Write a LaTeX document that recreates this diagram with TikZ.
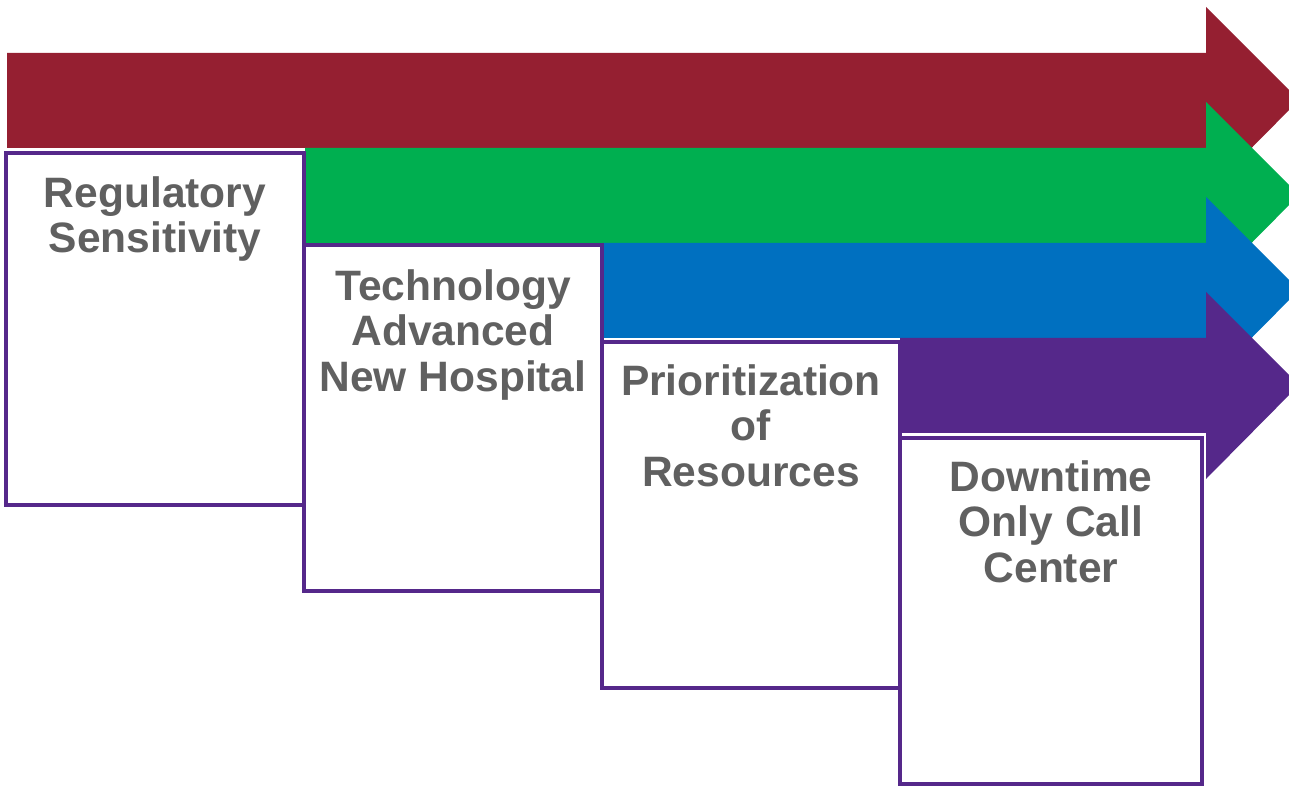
\documentclass[tikz,border=0pt]{standalone}
\usepackage{fontspec}
\setmainfont{Liberation Sans}
\usetikzlibrary{positioning}
\definecolor{wine}{HTML}{951F31}
\definecolor{leaf}{HTML}{00AF50}
\definecolor{sea}{HTML}{0070C0}
\definecolor{violet}{HTML}{55288A}
\definecolor{ink}{HTML}{606060}
\tikzstyle{every stage} = []
\tikzstyle{stage} = [rectangle, draw=violet, fill=white, line width=2.3pt, minimum width=5.96cm, minimum height=6.94cm, inner sep=0pt, every stage]
\tikzstyle{stagetext} = [align=center, inner sep=0pt, text=ink, font=\bfseries\fontsize{24.2pt}{25.8pt}\selectfont]

\begin{document}
\begin{tikzpicture}[x=0.02cm, y=-0.02cm]
        \useasboundingbox (0,0) rectangle (1289,786);
        \clip (0,0) rectangle (1289,786);
        % arrows, back to front
        \fill[wine] (7,53) -- (1206,53) -- (1206,7) -- (1299,100) -- (1206,194) -- (1206,148) -- (7,148) -- cycle;
        \fill[leaf] (305,148) -- (1206,148) -- (1206,102) -- (1299,195) -- (1206,289) -- (1206,243) -- (305,243) -- cycle;
        \fill[sea] (603,243) -- (1206,243) -- (1206,197) -- (1299,290) -- (1206,384) -- (1206,338) -- (603,338) -- cycle;
        \fill[violet] (900,338) -- (1206,338) -- (1206,292) -- (1299,385) -- (1206,479) -- (1206,433) -- (900,433) -- cycle;

        % stages
        \node[stage, minimum height=7.04cm] (regbox) at (155,329) {};
        \node[stage] (techbox) at (453,418) {};
        \node[stage] (priobox) at (751,515) {};
        \node[stage, minimum width=6.04cm] (callbox) at (1051,611) {};

        \node[stagetext, below=0.5cm of regbox.north] (reg) {Regulatory\\Sensitivity};
        \node[stagetext, below=0.54cm of techbox.north] (tech) {Technology\\Advanced\\New Hospital};
        \node[stagetext, below=0.5cm of priobox.north] (prio) {Prioritization\\of\\Resources};
        \node[stagetext, below=0.5cm of callbox.north] (call) {Downtime\\Only Call\\Center};

    \end{tikzpicture}
\end{document}
